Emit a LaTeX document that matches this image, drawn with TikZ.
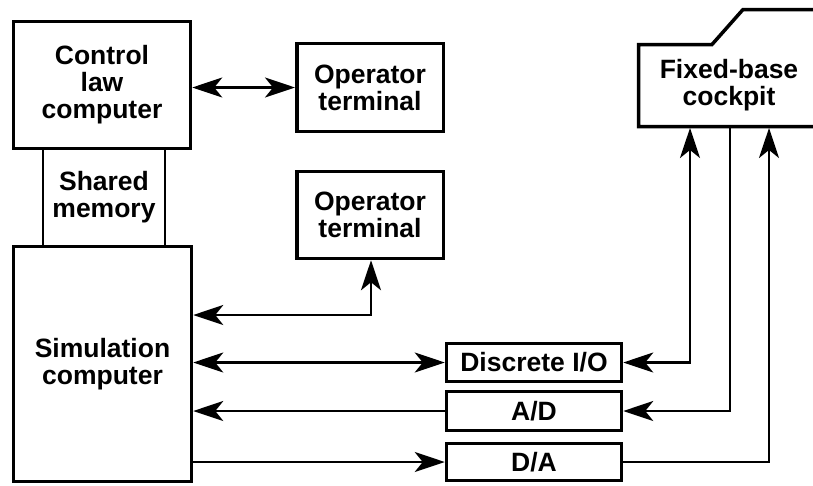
\documentclass[tikz,border=0pt]{standalone}
\usepackage{fontspec}
\setmainfont{Liberation Sans}
\usetikzlibrary{arrows.meta}
\begin{document}
\begin{tikzpicture}[x=1pt,y=-1pt,
  lbl/.style={font=\bfseries\fontsize{26.5}{27}\selectfont, align=center, inner sep=0pt},
  blk/.style={lbl, draw, line width=3.5pt, rectangle},
  thinblk/.style={lbl, draw, line width=2.6pt, rectangle},
  conn/.style={line width=2.6pt},
  tip/.tip={Stealth[length=30pt,width=20pt,inset=8pt]},
  arr/.style={conn, -tip},
  dbl/.style={conn, tip-tip}]
  \useasboundingbox (0,0) rectangle (813,485);

  % computers
  \node[thinblk, minimum width=122pt, minimum height=97pt] (shm) at (104,197.5) {Shared\\memory};
  \node[blk, minimum width=177pt, minimum height=127pt] (ctrl) at (102,85) {Control\\law\\computer};
  \node[blk, minimum width=178pt, minimum height=235pt] (sim) at (102.5,364) {Simulation\\computer};

  % operator terminals
  \node[blk, minimum width=146.5pt, minimum height=88pt] (op1) at (370,87.5) {Operator\\terminal};
  \node[blk, minimum width=146.5pt, minimum height=87pt] (op2) at (370,215) {Operator\\terminal};

  % interface boards
  \node[blk, minimum width=175pt, minimum height=38pt] (dio) at (534,362.5) {Discrete I/O};
  \node[blk, minimum width=175pt, minimum height=39pt] (ad) at (534,411) {A/D};
  \node[blk, minimum width=175pt, minimum height=37pt] (da) at (534,462) {D/A};

  % cockpit outline, open to the right
  \draw[line width=3.5pt, line join=miter] (816,126.5) -- (638.5,126.5) -- (638.5,44.5)
    -- (712,44.5) -- (743,9.5) -- (816,9.5);
  \node[lbl, minimum width=170pt, minimum height=86pt, outer sep=0pt] (cockpit) at (729,85) {Fixed-base\\cockpit};

  % links
  \draw[dbl] (ctrl.east |- op1.west) -- (op1.west);
  \draw[dbl] ([yshift=49pt]sim.east) -| ([xshift=1pt]op2.south);
  \draw[dbl] (sim.east |- dio.west) -- (dio.west);
  \draw[arr] (ad.west) -- (sim.east |- ad.west);
  \draw[arr] (sim.east |- da.west) -- (da.west);

  \draw[dbl] (dio.east) -| ([xshift=-39pt]cockpit.south);
  \draw[arr] ([xshift=1pt]cockpit.south) |- (ad.east);
  \draw[arr] (da.east) -| ([xshift=40pt]cockpit.south);
\end{tikzpicture}
\end{document}
